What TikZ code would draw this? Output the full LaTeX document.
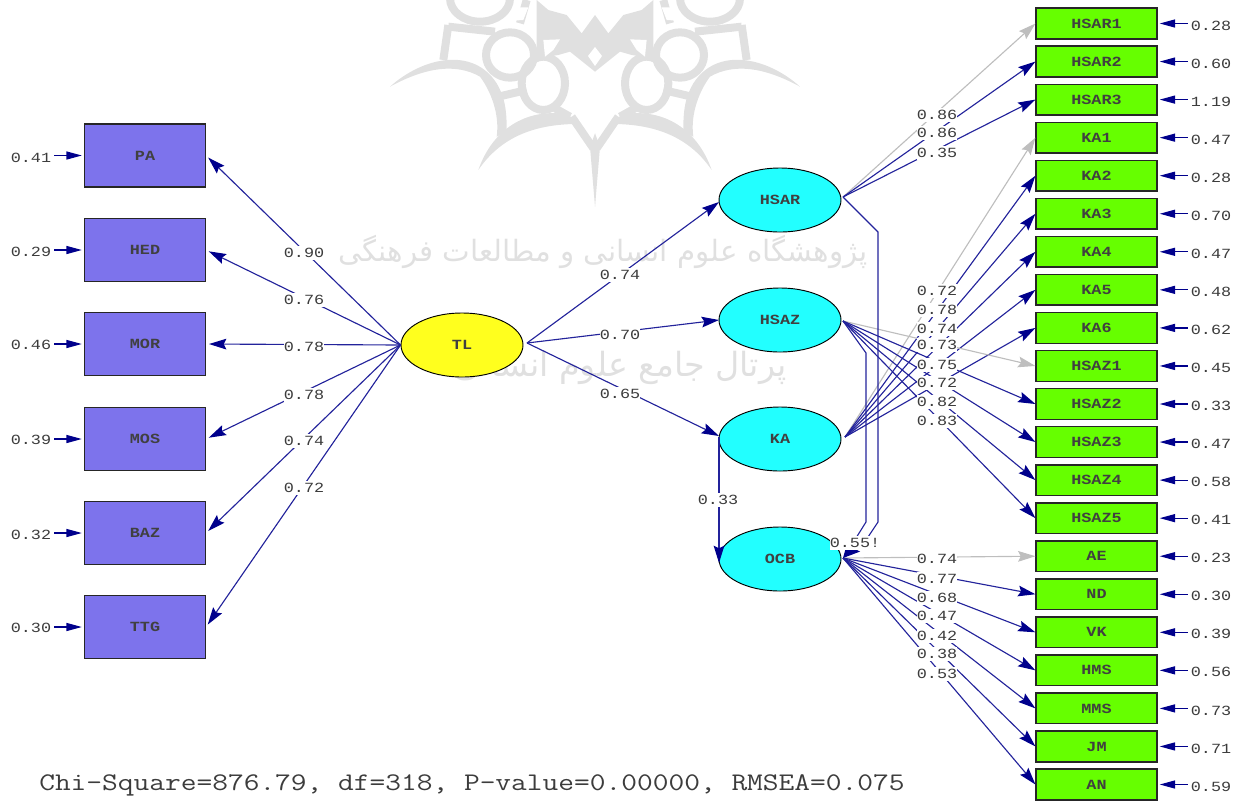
\documentclass[tikz,border=0pt]{standalone}
\usepackage{fontspec}
\usetikzlibrary{shapes.geometric,arrows.meta}
\TeXXeTstate=1
\newfontfamily\lab[FakeStretch=1.2]{Liberation Mono}
\newfontfamily\labb[FakeStretch=1.2]{Liberation Mono Bold}
\newfontfamily\foot[FakeStretch=1.206]{Latin Modern Mono}
\newfontfamily\arabicfont[Script=Arabic]{DejaVu Sans}
\definecolor{lnk}{RGB}{35,35,155}
\definecolor{hd}{RGB}{0,0,140}
\definecolor{gl}{RGB}{190,190,190}
\definecolor{wm}{RGB}{224,224,224}
\definecolor{boxL}{RGB}{125,115,236}
\definecolor{boxR}{RGB}{102,255,0}
\definecolor{cy}{RGB}{34,255,255}
\definecolor{ye}{RGB}{255,255,30}
\definecolor{tx}{RGB}{60,60,60}
\tikzset{
  x=0.75pt,y=-0.75pt,
  box/.style={draw=black!85,line width=1.1pt,inner sep=0pt,minimum width=90.5pt,font=\labb\fontsize{10.5}{10.5}\selectfont,text=black!75},
  lbox/.style={box,fill=boxL,minimum height=47.5pt},
  rbox/.style={box,fill=boxR,minimum height=23pt},
  lv/.style={ellipse,draw=black,line width=0.7pt,inner sep=0pt,minimum width=91.5pt,minimum height=48pt,font=\labb\fontsize{10.5}{10.5}\selectfont,text=black!75},
  plabel/.style={fill=white,inner sep=0pt,minimum width=29.5pt,minimum height=10.5pt,font=\lab\fontsize{10.5}{10.5}\selectfont,text=tx},
  elabel/.style={inner sep=0pt,font=\lab\fontsize{10.5}{10.5}\selectfont,text=tx},
  arr/.style={draw=lnk,line width=0.85pt,-{Stealth[length=13pt,width=8pt,inset=2pt,color=hd]}},
  garr/.style={draw=gl,line width=0.85pt,-{Stealth[length=13pt,width=8pt,inset=2pt,color=gl]}},
  err/.style={draw=hd,line width=0.9pt,shorten >=1.6pt,shorten <=2pt,-{Triangle[length=11.5pt,width=6pt,color=hd]}},
  wms/.style={draw=wm,line width=6pt},
}
\begin{document}
\begin{tikzpicture}
\useasboundingbox (0,0) rectangle (1242,801);
% watermark (coordinates below: 3x enlarged, measured from the emblem's axis)
\begin{scope}
\clip (0,0) rectangle (1242,801);
\foreach \s in {1,-1}{
\begin{scope}[shift={(595,0)},xscale=\s/3,yscale=1/3]
  % lower arc with tip
  \fill[wm] (-350,510) .. controls (-305,380) and (-195,320) .. (-75,345) -- (-65,372) .. controls (-165,375) and (-275,400) .. (-350,510) -- cycle;
  % upper long arc with tip
  \fill[wm] (-615,260) .. controls (-515,170) and (-365,140) .. (-295,250) .. controls (-265,300) and (-265,350) .. (-265,395) -- (-295,410) .. controls (-285,340) and (-315,270) .. (-345,230) .. controls (-415,190) and (-505,200) .. (-615,260) -- cycle;
  \draw[wms] (-155,250) ellipse (65 and 80);
  \draw[wms] (-255,165) ellipse (72 and 68);
  \draw[wms] (-345,-5) ellipse (90 and 70);
  \draw[wms] (-440,75) -- (-455,180);
  \draw[wms] (-440,80) -- (-300,95);
  \draw[wms] (-225,70) -- (-205,0);
  \draw[wms] (-290,290) -- (-205,270);
  \draw[wms] (-70,350) -- (-5,445);
  \draw[wms] (-120,325) -- (-75,350);
  \fill[wm] (-175,90) -- (-175,0) -- (-140,30) -- (-85,45) -- (-40,100) -- (0,45) -- (0,215) -- (-75,155) -- (-110,165) -- (-175,175) -- cycle;
  \fill[white] (-155,120) -- (-105,118) -- (-125,150) -- (-150,170) -- cycle;
  \fill[white] (-240,22) -- (-200,22) -- (-215,60) -- (-250,62) -- cycle;
  \fill[wm] (0,400) -- (-15,440) -- (0,620) -- cycle;
\end{scope}}
\fill[white] (595,47) -- (602,56) -- (595,66) -- (588,56) -- cycle;
\end{scope}
\node[text=wm,font=\arabicfont\fontsize{22}{22}\selectfont,anchor=center,inner sep=0pt] (wmA) at (603,252) {\beginR پژوهشگاه علوم انسانی و مطالعات فرهنگی\endR};
\node[text=wm,font=\arabicfont\fontsize{25}{25}\selectfont,anchor=center,inner sep=0pt] (wmB) at (620,368) {\beginR پرتال جامع علوم انسانی\endR};

% latent
\node[lv,fill=ye] (TL) at (462,345) {TL};
\node[lv,fill=cy] (HSAR) at (780,200) {HSAR};
\node[lv,fill=cy] (HSAZ) at (780,320) {HSAZ};
\node[lv,fill=cy] (KA) at (780,439) {KA};
\node[lv,fill=cy] (OCB) at (780,559) {OCB};

% left boxes
\foreach \nm/\yy/\ev/\ly in {PA/155.5/0.41/158,HED/250/0.29/252,MOR/344/0.46/345,MOS/439/0.39/440,BAZ/533/0.32/535,TTG/627/0.30/628}{
  \node[lbox] (\nm) at (145,\yy) {\nm};
  \node[elabel] (e\nm) at (31,\ly) {\ev};
  \draw[err] (e\nm.east |- \nm.west) -- (\nm.west);
  \draw[arr,shorten >=2.2pt] (TL.west) -- (\nm.east);
}
% right boxes
\foreach \nm/\ev [count=\i] in {HSAR1/0.28,HSAR2/0.60,HSAR3/1.19,KA1/0.47,KA2/0.28,KA3/0.70,KA4/0.47,KA5/0.48,KA6/0.62,HSAZ1/0.45,HSAZ2/0.33,HSAZ3/0.47,HSAZ4/0.58,HSAZ5/0.41,AE/0.23,ND/0.30,VK/0.39,HMS/0.56,MMS/0.73,JM/0.71,AN/0.59}{
  \node[rbox] (\nm) at (1096.5,{23.5+38.05*(\i-1)}) {\nm};
  \node[elabel] (e\nm) at (1211,{25.5+38.05*(\i-1)}) {\ev};
  \draw[err] (e\nm.west |- \nm.east) -- (\nm.east);
}
% origins
\coordinate (oHSAR) at (843,197);
\coordinate (oHSAZ) at (843,321);
\coordinate (oKA) at (845,437);
\coordinate (oOCB) at (843,558);
\coordinate (oTL) at (527,343);
% TL to constructs
\coordinate (tHSAR) at (719,202);
\coordinate (tHSAZ) at (719,320);
\coordinate (tKA) at (719,436);
\foreach \t in {HSAR,HSAZ,KA}{\draw[arr] (oTL) -- (t\t);}
% fans
\draw[garr] (oHSAR) -- (HSAR1.west);
\foreach \t in {HSAR2,HSAR3}{\draw[arr] (oHSAR) -- (\t.west);}
\draw[garr] (oKA) -- (KA1.west);
\foreach \t in {KA2,KA3,KA4,KA5,KA6}{\draw[arr] (oKA) -- (\t.west);}
\draw[garr] (oHSAZ) -- (HSAZ1.west);
\foreach \t in {HSAZ2,HSAZ3,HSAZ4,HSAZ5}{\draw[arr] (oHSAZ) -- (\t.west);}
\draw[garr] (oOCB) -- (AE.west);
\foreach \t in {ND,VK,HMS,MMS,JM,AN}{\draw[arr] (oOCB) -- (\t.west);}
% structural paths
\coordinate (tOCBw) at (719,563);
\coordinate (sKA) at (719,437);
\draw[arr] (sKA) -- (tOCBw);
\coordinate (tOCBe) at (843,558);
\draw[arr] (oHSAR) -- (878,232) -- (878,522) -- (866,540) -- (tOCBe);
\draw[arr] (oHSAZ) -- (866,353) -- (866,522) -- (856,538) -- (tOCBe);

% path labels
\foreach \v/\xx/\yy [count=\i] in {0.90/304/253,0.76/304/300,0.78/304/347,0.78/304/395,0.74/304/441,0.72/304/488,
 0.74/620/275,0.70/620/335,0.65/620/394,
 0.86/937/115,0.86/937/133,0.35/937/153,
 0.72/937/291,0.78/937/310,0.74/937/329,0.73/937/345,0.75/937/365,0.72/937/383,0.82/937/402,0.83/937/421,
 0.74/937/559,0.77/937/579,0.68/937/598,0.47/937/616,0.42/937/636,0.38/937/654,0.53/937/674,
 0.33/718/500}{
  \node[plabel] (p\i) at (\xx,\yy) {\v};
}
\node[plabel,minimum width=34pt] (p55) at (855,543) {0.55!};
\node[anchor=west,inner sep=0pt,font=\foot\fontsize{19}{19}\selectfont,text=tx] (fit) at (39,785) {Chi-Square=876.79, df=318, P-value=0.00000, RMSEA=0.075};
\end{tikzpicture}
\end{document}
